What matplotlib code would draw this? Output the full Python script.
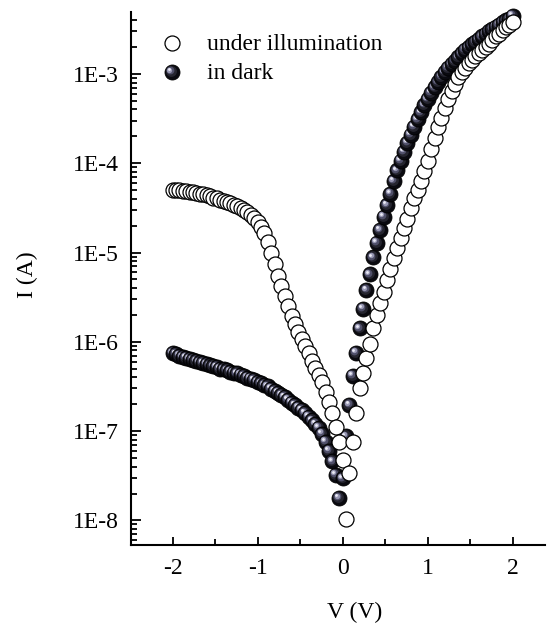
import numpy as np
import matplotlib
matplotlib.use('Agg')
import matplotlib.pyplot as plt
from matplotlib.ticker import FuncFormatter, LogLocator, NullFormatter, MultipleLocator
from matplotlib.transforms import offset_copy

plt.rcParams['font.family'] = ['Liberation Serif', 'DejaVu Serif']

# bias sweep (V)
voltage = [-2.00, -1.96, -1.92, -1.88, -1.84, -1.80, -1.76, -1.72, -1.68, -1.64,
           -1.60, -1.56, -1.52, -1.48, -1.44, -1.40, -1.36, -1.32, -1.28, -1.24,
           -1.20, -1.16, -1.12, -1.08, -1.04, -1.00, -0.96, -0.92, -0.88, -0.84,
           -0.80, -0.76, -0.72, -0.68, -0.64, -0.60, -0.56, -0.52, -0.48, -0.44,
           -0.40, -0.36, -0.32, -0.28, -0.24, -0.20, -0.16, -0.12, -0.08, -0.04,
           0.00, 0.04, 0.08, 0.12, 0.16, 0.20, 0.24, 0.28, 0.32, 0.36,
           0.40, 0.44, 0.48, 0.52, 0.56, 0.60, 0.64, 0.68, 0.72, 0.76,
           0.80, 0.84, 0.88, 0.92, 0.96, 1.00, 1.04, 1.08, 1.12, 1.16,
           1.20, 1.24, 1.28, 1.32, 1.36, 1.40, 1.44, 1.48, 1.52, 1.56,
           1.60, 1.64, 1.68, 1.72, 1.76, 1.80, 1.84, 1.88, 1.92, 1.96,
           2.00]

# log10 of |I| (A), under illumination
log_i_light = [-4.30, -4.30, -4.305, -4.31, -4.315, -4.32, -4.325, -4.33, -4.34, -4.35,
               -4.36, -4.37, -4.385, -4.395, -4.41, -4.42, -4.435, -4.45, -4.465, -4.48,
               -4.50, -4.52, -4.545, -4.575, -4.61, -4.655, -4.71, -4.78, -4.88, -5.00,
               -5.13, -5.26, -5.38, -5.49, -5.60, -5.71, -5.80, -5.89, -5.97, -6.05,
               -6.13, -6.21, -6.29, -6.37, -6.45, -6.56, -6.67, -6.80, -6.95, -7.12,
               -7.32, -7.99, -7.47, -7.12, -6.80, -6.52, -6.35, -6.18, -6.02, -5.85,
               -5.70, -5.57, -5.44, -5.31, -5.18, -5.06, -4.95, -4.84, -4.73, -4.62,
               -4.50, -4.39, -4.30, -4.20, -4.09, -3.97, -3.84, -3.72, -3.60, -3.49,
               -3.38, -3.28, -3.19, -3.11, -3.04, -2.98, -2.93, -2.88, -2.84, -2.80,
               -2.77, -2.73, -2.70, -2.66, -2.62, -2.58, -2.55, -2.51, -2.48, -2.45,
               -2.42]

# log10 of |I| (A), in dark
log_i_dark = [-6.125, -6.14, -6.155, -6.17, -6.18, -6.195, -6.205, -6.215, -6.23, -6.24,
              -6.25, -6.265, -6.275, -6.285, -6.30, -6.31, -6.32, -6.335, -6.345, -6.355,
              -6.37, -6.385, -6.40, -6.415, -6.43, -6.45, -6.465, -6.485, -6.50, -6.525,
              -6.55, -6.57, -6.595, -6.62, -6.65, -6.68, -6.71, -6.74, -6.765, -6.80,
              -6.84, -6.88, -6.92, -6.96, -7.03, -7.12, -7.22, -7.34, -7.49, -7.75,
              -7.53, -7.06, -6.71, -6.38, -6.12, -5.85, -5.63, -5.42, -5.245, -5.055,
              -4.89, -4.75, -4.60, -4.47, -4.34, -4.20, -4.08, -3.97, -3.87, -3.77,
              -3.68, -3.59, -3.51, -3.43, -3.35, -3.28, -3.21, -3.15, -3.09, -3.03,
              -2.98, -2.93, -2.89, -2.85, -2.81, -2.77, -2.73, -2.70, -2.67, -2.64,
              -2.61, -2.58, -2.55, -2.52, -2.50, -2.47, -2.45, -2.42, -2.40, -2.38,
              -2.35]

i_light = 10 ** np.array(log_i_light)
i_dark = 10 ** np.array(log_i_dark)

MS = 10.8
# shaded sphere layers: (size, colour, offset in px)
sphere_layers = [(7.8, '#25252f', 1.0), (5.6, '#50506a', 1.8),
                 (3.8, '#9898b4', 2.4), (2.0, '#ececf6', 2.8)]


def sphere(ax, x, y, transform_base, fig):
    ax.plot(x, y, 'o', ms=MS, mfc='#0a0a10', mec='black', mew=0.6,
            transform=transform_base, clip_on=False)
    for s, c, d in sphere_layers:
        tr = offset_copy(transform_base, fig=fig, x=-d, y=d, units='dots')
        ax.plot(x, y, 'o', ms=s, mfc=c, mec='none', transform=tr, clip_on=False)


fig = plt.figure(figsize=(5.47, 6.24), dpi=100)
ax = fig.add_axes([0.2395, 0.1266, 0.7569, 0.8542])
ax.set_yscale('log')
ax.set_xlim(-2.49, 2.38)
ax.set_ylim(5.3e-9, 4.94e-3)

for v, i in zip(voltage, i_dark):
    sphere(ax, v, i, ax.transData, fig)
ax.plot(voltage, i_light, 'o', ms=MS, mfc='white', mec='black', mew=0.9,
        clip_on=False)

# legend
ax.plot(0.098, 0.942, 'o', ms=MS, mfc='white', mec='black', mew=0.9,
        transform=ax.transAxes)
sphere(ax, 0.098, 0.887, ax.transAxes, fig)
ax.text(0.184, 0.929, 'under illumination', transform=ax.transAxes,
        fontsize=17, va='baseline')
ax.text(0.184, 0.874, 'in dark', transform=ax.transAxes,
        fontsize=17, va='baseline')

for side in ['top', 'right']:
    ax.spines[side].set_visible(False)
for side in ['left', 'bottom']:
    ax.spines[side].set_linewidth(1.5)

ax.xaxis.set_major_locator(MultipleLocator(1))
ax.xaxis.set_minor_locator(MultipleLocator(0.5))
ax.xaxis.set_major_formatter(FuncFormatter(lambda v, _: f'{v:g}'))
ax.yaxis.set_major_locator(LogLocator(base=10, numticks=20))
ax.yaxis.set_minor_locator(LogLocator(base=10, subs=np.arange(2, 10), numticks=20))
ax.yaxis.set_minor_formatter(NullFormatter())
ax.yaxis.set_major_formatter(FuncFormatter(lambda y, _: f'1E{int(round(np.log10(y)))}'))

ax.tick_params(which='both', direction='in', width=1.3, labelsize=17)
ax.tick_params(axis='y', which='major', length=7, pad=9)
ax.tick_params(axis='y', which='minor', length=4.5)
ax.tick_params(axis='x', which='major', length=6, pad=9)
ax.tick_params(axis='x', which='minor', length=4)

ax.set_xlabel('V (V)', fontsize=17)
ax.set_ylabel('I (A)', fontsize=17)
ax.xaxis.set_label_coords(0.539, -0.106)
ax.yaxis.set_label_coords(-0.225, 0.507)

fig.savefig('out.png', dpi=100)
